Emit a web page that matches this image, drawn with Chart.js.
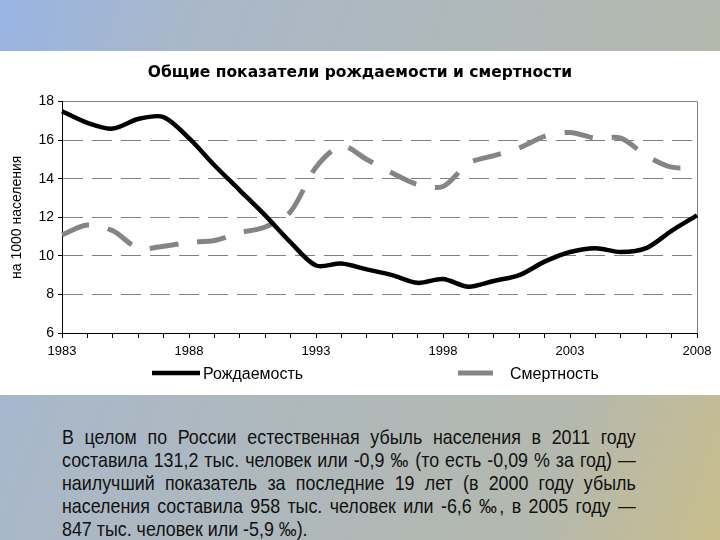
<!DOCTYPE html>
<html>
<head>
<meta charset="utf-8">
<script src="https://cdn.jsdelivr.net/npm/chart.js@4.4.0/dist/chart.umd.min.js"></script>
<style>
  body {
    margin: 0;
    width: 720px;
    height: 540px;
    overflow: hidden;
    background: linear-gradient(110deg, #98b4e4 0%, #a9b8c9 21%, #b4b8ae 79%, #c8bd8c 100%);
  }
  #box {
    position: absolute;
    left: 0;
    top: 51px;
    width: 720px;
    height: 344px;
    background: #fff;
  }
  #note {
    position: absolute;
    left: 62px;
    top: 425px;
    font-family: 'Liberation Sans', Arial, sans-serif;
    font-size: 21px;
    line-height: 23px;
    color: #111;
  }
  /* the slide text is tall and narrow, squeeze it sideways */
  #note div {
    width: 675px;
    transform: scaleX(0.85);
    transform-origin: left center;
    text-align: justify;
    text-align-last: justify;
    white-space: nowrap;
  }
  #note div.last { text-align-last: left; }
</style>
</head>
<body>
<div id="box"><canvas id="myChart" width="720" height="344"></canvas></div>
<div id="note">
  <div>В целом по России естественная убыль населения в 2011 году</div>
  <div>составила 131,2 тыс. человек или -0,9 ‰ (то есть -0,09 % за год) —</div>
  <div>наилучший показатель за последние 19 лет (в 2000 году убыль</div>
  <div>населения составила 958 тыс. человек или -6,6 ‰, в 2005 году —</div>
  <div class="last">847 тыс. человек или -5,9 ‰).</div>
</div>
<script>
const years = ['1983', '1984', '1985', '1986', '1987', '1988', '1989', '1990', '1991',
    '1992', '1993', '1994', '1995', '1996', '1997', '1998', '1999', '2000', '2001',
    '2002', '2003', '2004', '2005', '2006', '2007', '2008'];
const shownYears = ['1983', '1988', '1993', '1998', '2003', '2008'];

const birthRate = [17.5, 16.9, 16.6, 17.1, 17.2, 16.1, 14.7, 13.4, 12.1, 10.7, 9.5, 9.6, 9.3,
    9.0, 8.6, 8.8, 8.4, 8.7, 9.0, 9.7, 10.2, 10.4, 10.2, 10.4, 11.3, 12.1];
const deathRate = [11.1, 11.6, 11.3, 10.4, 10.5, 10.7, 10.8, 11.2, 11.5, 12.3, 14.6, 15.7, 15.0,
    14.3, 13.7, 13.6, 14.8, 15.2, 15.6, 16.2, 16.4, 16.1, 16.1, 15.2, 14.6, 14.6];

const seriesNames = ['Рождаемость', 'Смертность'];

// legend under the axis, drawn by hand like in the original slide
const bottomLegend = {
    id: 'bottomLegend',
    afterDraw(chart) {
        const ctx = chart.ctx;
        const spots = [{x: 152, w: 48, tx: 203}, {x: 458, w: 35, tx: 510}];
        const y = 322;
        ctx.save();
        chart.data.datasets.forEach((ds, i) => {
            const s = spots[i];
            ctx.strokeStyle = ds.borderColor;
            ctx.lineWidth = ds.borderWidth;
            ctx.beginPath();
            ctx.moveTo(s.x, y);
            ctx.lineTo(s.x + s.w, y);
            ctx.stroke();
            ctx.fillStyle = '#000';
            ctx.font = "16px 'Liberation Sans', Arial, sans-serif";
            ctx.textBaseline = 'middle';
            ctx.fillText(ds.label, s.tx, y + 2);
        });
        ctx.restore();
    }
};

const ctx = document.getElementById('myChart').getContext('2d');
const myChart = new Chart(ctx, {
    type: 'line',
    data: {
        labels: years,
        datasets: [{
            label: seriesNames[0],
            data: birthRate,
            borderColor: '#000000',
            borderWidth: 4.5,
            pointRadius: 0,
            tension: 0.3,
            fill: false
        }, {
            label: seriesNames[1],
            data: deathRate,
            borderColor: '#858585',
            borderWidth: 5,
            borderDash: [29, 19],
            borderCapStyle: 'butt',
            pointRadius: 0,
            tension: 0.3,
            fill: false
        }]
    },
    options: {
        responsive: false,
        animation: false,
        layout: {
            padding: {top: 0, right: 23, bottom: 32, left: 23}
        },
        scales: {
            x: {
                offset: false,
                afterFit: function(scale) {
                    scale.height = 30;
                },
                grid: {
                    drawOnChartArea: true,
                    color: (c) => c.index === years.length - 1 ? '#808080' : 'rgba(0,0,0,0)',
                    tickColor: '#000',
                    tickLength: 5
                },
                border: {
                    color: '#000',
                    width: 1
                },
                ticks: {
                    autoSkip: false,
                    maxRotation: 0,
                    padding: 6,
                    color: '#000',
                    font: {
                        family: "'Liberation Sans', Arial, sans-serif",
                        size: 13
                    },
                    callback: function(value, index) {
                        const y = years[index];
                        return shownYears.includes(y) ? y : '';
                    }
                }
            },
            y: {
                min: 6,
                max: 18,
                afterFit: function(scale) {
                    scale.width = 39;
                },
                ticks: {
                    stepSize: 2,
                    padding: 4,
                    color: '#000',
                    font: {
                        family: "'Liberation Sans', Arial, sans-serif",
                        size: 14
                    }
                },
                grid: {
                    color: (c) => c.tick && c.tick.value === 6 ? 'rgba(0,0,0,0)' : '#808080',
                    tickColor: '#000',
                    tickLength: 4
                },
                border: {
                    color: '#000',
                    width: 1,
                    dash: (c) => c.tick && c.tick.value === 18 ? [] : [20, 9]
                },
                title: {
                    display: true,
                    text: 'на 1000 населения',
                    color: '#000',
                    padding: {top: -14, bottom: 0},
                    font: {
                        family: "'Liberation Sans', Arial, sans-serif",
                        size: 14
                    }
                }
            }
        },
        plugins: {
            legend: {
                display: false
            },
            tooltip: {
                enabled: false
            },
            title: {
                display: true,
                text: 'Общие показатели рождаемости и смертности',
                color: '#000',
                padding: {top: 13, bottom: 19},
                font: {
                    family: "'DejaVu Sans', sans-serif",
                    size: 15.5,
                    weight: 'bold'
                }
            }
        }
    },
    plugins: [bottomLegend]
});
</script>
</body>
</html>
